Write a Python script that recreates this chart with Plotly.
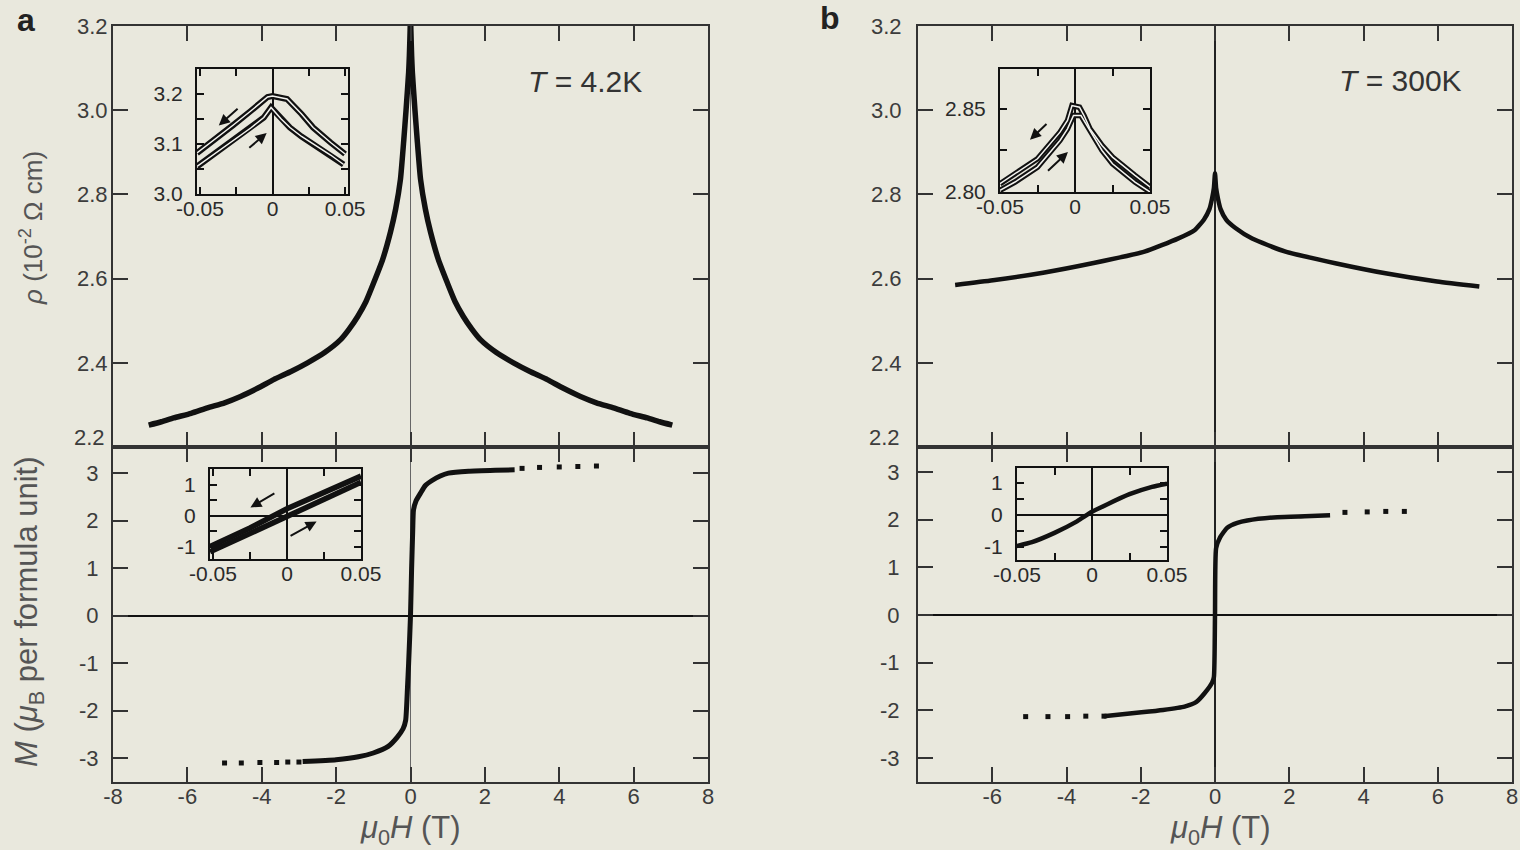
import plotly.graph_objects as go

W, H = 1520, 850
BG = "#e9e8dd"
INK = "#111111"
AX = "#333333"
TXT = "#3c3c3c"
FONT = "Liberation Sans, Arial, sans-serif"

# ---------------- data ----------------
# panel a, resistivity at 4.2 K
rho_a_H = [-7.04, -6.7, -6.37, -5.9, -5.46, -5.0, -4.57, -4.1, -3.68, -3.2, -2.77, -2.3, -1.88, -1.65,
           -1.42, -1.2, -0.99, -0.75, -0.54, -0.4, -0.27, -0.18, -0.12, -0.08, -0.05, -0.03, -0.01, 0.0,
           0.01, 0.03, 0.05, 0.08, 0.12, 0.18, 0.27, 0.4, 0.54, 0.75, 0.99, 1.2, 1.42, 1.65, 1.88, 2.3,
           2.77, 3.2, 3.68, 4.1, 4.57, 5.0, 5.46, 5.9, 6.37, 6.7, 7.04]
rho_a_val = [2.252, 2.26, 2.269, 2.28, 2.293, 2.305, 2.32, 2.34, 2.36, 2.38, 2.40, 2.425, 2.455, 2.48,
             2.51, 2.545, 2.59, 2.645, 2.71, 2.765, 2.836, 2.93, 3.0, 3.05, 3.09, 3.13, 3.19, 3.23,
             3.19, 3.13, 3.09, 3.05, 3.0, 2.93, 2.836, 2.765, 2.71, 2.645, 2.59, 2.545, 2.51, 2.48, 2.455, 2.425,
             2.40, 2.38, 2.36, 2.34, 2.32, 2.305, 2.293, 2.28, 2.269, 2.26, 2.252]

# panel a, magnetisation at 4.2 K (continuous part and sparse points)
m_a_H = [-2.9, -2.0, -1.4, -1.0, -0.6, -0.36, -0.2, -0.13, -0.08, -0.05, 0.0, 0.03, 0.06, 0.08,
         0.15, 0.27, 0.4, 0.59, 0.8, 1.02, 1.56, 2.28, 2.8]
m_a_val = [-3.07, -3.03, -2.97, -2.89, -2.75, -2.56, -2.38, -2.2, -1.5, -1.0, 0.0, 1.0, 1.8, 2.22,
           2.42, 2.58, 2.74, 2.85, 2.94, 3.0, 3.04, 3.06, 3.07]
m_a_dots_H = [-5.0, -4.55, -4.05, -3.6, -3.3, -3.0, 3.0, 3.47, 4.0, 4.5, 5.0]
m_a_dots_val = [-3.1, -3.1, -3.09, -3.09, -3.08, -3.08, 3.1, 3.12, 3.13, 3.14, 3.15]

# panel b, resistivity at 300 K
rho_b_H = [-7.0, -5.98, -4.63, -3.27, -1.9, -1.0, -0.55, -0.3, -0.15, -0.08, -0.03, 0.0,
           0.03, 0.08, 0.15, 0.3, 0.55, 1.0, 1.9, 3.27, 4.63, 5.98, 7.12]
rho_b_val = [2.585, 2.596, 2.614, 2.637, 2.664, 2.695, 2.715, 2.74, 2.765, 2.79, 2.815, 2.85,
             2.815, 2.79, 2.765, 2.74, 2.72, 2.695, 2.664, 2.636, 2.612, 2.593, 2.581]

# panel b, magnetisation at 300 K
m_b_H = [-3.0, -1.98, -1.4, -0.82, -0.5, -0.27, -0.08, -0.03, 0.0, 0.03, 0.14, 0.33, 0.6,
         0.87, 1.68, 2.42, 3.1]
m_b_val = [-2.12, -2.04, -1.99, -1.92, -1.82, -1.63, -1.42, -1.3, 0.0, 1.4, 1.63, 1.83, 1.93,
           1.98, 2.05, 2.07, 2.09]
m_b_dots_H = [-5.1, -4.5, -3.97, -3.48, -2.99, 3.5, 4.1, 4.6, 5.1]
m_b_dots_val = [-2.13, -2.13, -2.13, -2.12, -2.12, 2.15, 2.16, 2.17, 2.17]

# inset a (rho, low field): two sweep branches
ia_rho_H1 = [-0.052, -0.04, -0.027, -0.015, -0.0034, 0.0, 0.01, 0.02, 0.028, 0.04, 0.05]
ia_rho_v1 = [3.082, 3.108, 3.138, 3.166, 3.194, 3.196, 3.19, 3.16, 3.133, 3.103, 3.08]
ia_rho_H2 = [-0.052, -0.04, -0.027, -0.015, -0.006, -0.001, 0.006, 0.012, 0.02, 0.028, 0.04, 0.049]
ia_rho_v2 = [3.055, 3.08, 3.106, 3.132, 3.153, 3.173, 3.15, 3.133, 3.115, 3.10, 3.078, 3.059]

# inset a (M, low field): hysteresis loop
ia_m_H1 = [0.05, 0.025, 0.0, -0.025, -0.052]
ia_m_v1 = [1.27, 0.76, 0.22, -0.4, -1.0]
ia_m_H2 = [-0.052, -0.025, 0.0, 0.025, 0.05]
ia_m_v2 = [-1.17, -0.58, -0.03, 0.52, 1.07]

# inset b (rho, low field)
ib_rho_H1 = [-0.05, -0.04, -0.025, -0.01, -0.005, -0.002, 0.003, 0.006, 0.01, 0.018, 0.025, 0.04, 0.05]
ib_rho_v1 = [2.805, 2.811, 2.82, 2.836, 2.843, 2.852, 2.851, 2.846, 2.838, 2.828, 2.821, 2.81, 2.803]
ib_rho_H2 = [-0.05, -0.04, -0.025, -0.01, -0.005, -0.001, 0.004, 0.008, 0.012, 0.018, 0.025, 0.04, 0.05]
ib_rho_v2 = [2.801, 2.806, 2.815, 2.831, 2.838, 2.846, 2.846, 2.84, 2.834, 2.825, 2.817, 2.806, 2.800]

# inset b (M, low field)
ib_m_H = [-0.05, -0.04, -0.025, -0.01, 0.0, 0.01, 0.025, 0.04, 0.05]
ib_m_v = [-0.97, -0.85, -0.56, -0.2, 0.1, 0.33, 0.65, 0.88, 0.98]

x_ticks_a = [-8, -6, -4, -2, 0, 2, 4, 6, 8]
x_text_a = ["-8", "-6", "-4", "-2", "0", "2", "4", "6", "8"]
x_ticks_b = [-6, -4, -2, 0, 2, 4, 6, 8]
x_text_b = ["-6", "-4", "-2", "0", "2", "4", "6", "8"]
rho_ticks = [2.4, 2.6, 2.8, 3.0, 3.2]
rho_text = ["2.4", "2.6", "2.8", "3.0", "3.2"]
rho_bottom_label = "2.2"
m_ticks = [-3, -2, -1, 0, 1, 2, 3]
m_text = ["-3", "-2", "-1", "0", "1", "2", "3"]
ins_x_ticks = [-0.05, 0, 0.05]
ins_x_text = ["-0.05", "0", "0.05"]

# ---------------- layout helpers ----------------
def fx(p):
    return p / W

def fy(p):
    return 1 - p / H

fig = go.Figure()

def line(x, y, xa, ya, width, color=INK, shape="linear"):
    fig.add_trace(go.Scatter(x=x, y=y, xaxis=xa, yaxis=ya, mode="lines",
                             line=dict(color=color, width=width, shape=shape, smoothing=0.5),
                             hoverinfo="skip", showlegend=False))

def dots(x, y, xa, ya, size=5):
    fig.add_trace(go.Scatter(x=x, y=y, xaxis=xa, yaxis=ya, mode="markers",
                             marker=dict(color=INK, size=size, symbol="square"),
                             hoverinfo="skip", showlegend=False))

# main curves
line(rho_a_H, rho_a_val, "x", "y", 5.5, shape="spline")
line(m_a_H, m_a_val, "x2", "y2", 5, shape="spline")
dots(m_a_dots_H, m_a_dots_val, "x2", "y2", 5)
line(rho_b_H, rho_b_val, "x3", "y3", 4.5, shape="spline")
line(m_b_H, m_b_val, "x4", "y4", 4.5, shape="spline")
dots(m_b_dots_H, m_b_dots_val, "x4", "y4", 5)

# insets
line(ia_rho_H1, ia_rho_v1, "x5", "y5", 6)
line(ia_rho_H2, ia_rho_v2, "x5", "y5", 6)
line(ia_rho_H1, ia_rho_v1, "x5", "y5", 1.5, "#f4f4f0")
line(ia_rho_H2, ia_rho_v2, "x5", "y5", 1.5, "#f4f4f0")
line(ia_m_H1, ia_m_v1, "x6", "y6", 5.5)
line(ia_m_H2, ia_m_v2, "x6", "y6", 5.5)
line(ib_rho_H1, ib_rho_v1, "x7", "y7", 5.5)
line(ib_rho_H2, ib_rho_v2, "x7", "y7", 5.5)
line(ib_rho_H1, ib_rho_v1, "x7", "y7", 1.5, "#f4f4f0")
line(ib_rho_H2, ib_rho_v2, "x7", "y7", 1.5, "#f4f4f0")
line(ib_m_H, ib_m_v, "x8", "y8", 4.5, shape="spline")

tickfont = dict(family=FONT, size=22, color=TXT)
ins_font = dict(family=FONT, size=21, color="#2a2a2a")

def main_x(domain, anchor, vals, text, show, zcolor, zwidth):
    return dict(domain=domain, anchor=anchor, range=[-8, 8], tickvals=vals, ticktext=text,
                showticklabels=show, ticks="inside", ticklen=15, tickwidth=2, tickcolor=AX,
                showline=True, linecolor=AX, linewidth=2, mirror="ticks", showgrid=False,
                zeroline=True, zerolinecolor=zcolor, zerolinewidth=zwidth, tickfont=tickfont,
                ticklabelstandoff=-6, automargin=False)

def main_y(domain, anchor, rng, vals, text, standoff, zero):
    return dict(domain=domain, anchor=anchor, range=rng, tickvals=vals, ticktext=text,
                ticks="inside", ticklen=15, tickwidth=2, tickcolor=AX, showline=True, linecolor=AX,
                linewidth=2, mirror="ticks", showgrid=False, zeroline=zero, zerolinecolor=INK,
                zerolinewidth=2, tickfont=tickfont, ticklabelstandoff=standoff, automargin=False)

def ins_x(domain, anchor, rng):
    return dict(domain=domain, anchor=anchor, range=rng, tickvals=ins_x_ticks, ticktext=ins_x_text,
                ticks="inside", ticklen=7, tickwidth=1.5, tickcolor=INK, showline=True, linecolor=INK,
                linewidth=2, mirror="ticks", showgrid=False, zeroline=True, zerolinecolor=INK,
                zerolinewidth=1.5, tickfont=ins_font, ticklabelstandoff=-5, automargin=False,
                minor=dict(tickvals=[-0.025, 0.025], ticks="inside", ticklen=7, tickwidth=1.5,
                           tickcolor=INK, showgrid=False))

def ins_y(domain, anchor, rng, vals, text, minor_vals, zero):
    return dict(domain=domain, anchor=anchor, range=rng, tickvals=vals, ticktext=text,
                ticks="inside", ticklen=7, tickwidth=1.5, tickcolor=INK, showline=True, linecolor=INK,
                linewidth=2, mirror="ticks", showgrid=False, zeroline=zero, zerolinecolor=INK,
                zerolinewidth=1.5, tickfont=ins_font, ticklabelstandoff=8, automargin=False,
                minor=dict(tickvals=minor_vals, ticks="inside", ticklen=7, tickwidth=1.5,
                           tickcolor=INK, showgrid=False))

xa_dom = [fx(113), fx(708)]
xb_dom = [fx(918), fx(1512)]
yu_dom = [fy(447), fy(26)]
yl_dom = [fy(782), fy(447)]

fig.update_layout(
    width=W, height=H, margin=dict(l=0, r=0, t=0, b=0, autoexpand=False),
    paper_bgcolor=BG, plot_bgcolor="rgba(0,0,0,0)", showlegend=False,
    xaxis=main_x(xa_dom, "y", x_ticks_a, x_text_a, False, "#666666", 1),
    yaxis=main_y(yu_dom, "x", [2.2, 3.2], rho_ticks, rho_text, -1, False),
    xaxis2=main_x(xa_dom, "y2", x_ticks_a, x_text_a, True, "#666666", 1),
    yaxis2=main_y(yl_dom, "x2", [-3.5, 3.55], m_ticks, m_text, 8, True),
    xaxis3=main_x(xb_dom, "y3", x_ticks_b, x_text_b, False, "#222222", 2),
    yaxis3=main_y(yu_dom, "x3", [2.2, 3.2], rho_ticks, rho_text, 10, False),
    xaxis4=main_x(xb_dom, "y4", x_ticks_b, x_text_b, True, "#222222", 2),
    yaxis4=main_y(yl_dom, "x4", [-3.5, 3.52], m_ticks, m_text, 12, True),
    xaxis5=ins_x([fx(197), fx(348)], "y5", [-0.052, 0.052]),
    yaxis5=ins_y([fy(194), fy(69)], "x5", [3.0, 3.25], [3.0, 3.1, 3.2],
                 ["3.0", "3.1", "3.2"], [3.05, 3.15], False),
    xaxis6=ins_x([fx(210), fx(361)], "y6", [-0.052, 0.05]),
    yaxis6=ins_y([fy(559), fy(469)], "x6", [-1.4, 1.5], [-1, 0, 1],
                 ["-1", "0", "1"], [-0.5, 0.5], True),
    xaxis7=ins_x([fx(1000), fx(1150)], "y7", [-0.05, 0.05]),
    yaxis7=ins_y([fy(192), fy(69)], "x7", [2.80, 2.874], [2.80, 2.85],
                 ["2.80", "2.85"], [2.825], False),
    xaxis8=ins_x([fx(1017), fx(1167)], "y8", [-0.05, 0.05]),
    yaxis8=ins_y([fy(560), fy(468)], "x8", [-1.41, 1.47], [-1, 0, 1],
                 ["-1", "0", "1"], [-0.5, 0.5], True),
)

ann = []
def text(x, y, s, size, color="#333333", angle=0, xanchor="center"):
    ann.append(dict(x=fx(x), y=fy(y), xref="paper", yref="paper", text=s, showarrow=False,
                    textangle=angle, xanchor=xanchor, yanchor="middle",
                    font=dict(family=FONT, size=size, color=color)))

text(26, 20, "<b>a</b>", 32, "#222222")
text(830, 18, "<b>b</b>", 32, "#222222")
text(585, 82, "<i>T</i> = 4.2K", 30, "#333333")
text(1400, 80, "<i>T</i> = 300K", 30, "#333333")
text(31, 228, "<i>ρ</i> (10<sup>-2</sup> Ω cm)", 26, "#555555", -90)
text(29, 612, "<i>M</i> (<i>μ</i><sub>B</sub> per formula unit)", 31, "#555555", -90)
text(411, 830, "<i>μ</i><sub>0</sub><i>H</i> (T)", 31, "#555555")
text(1220, 830, "<i>μ</i><sub>0</sub><i>H</i> (T)", 31, "#555555")
# bottom label of the resistivity axes, set slightly above the panel boundary as in the figure
text(107, 437, rho_bottom_label, 22, TXT, xanchor="right")
text(902, 437, rho_bottom_label, 22, TXT, xanchor="right")

def arrow(xa, ya, tail, head):
    ann.append(dict(x=head[0], y=head[1], ax=tail[0], ay=tail[1], xref=xa, yref=ya,
                    axref=xa, ayref=ya, text="", showarrow=True, arrowhead=2, arrowsize=1.1,
                    arrowwidth=2, arrowcolor=INK))

arrow("x5", "y5", (-0.023, 3.173), (-0.037, 3.137))
arrow("x5", "y5", (-0.017, 3.09), (-0.004, 3.122))
arrow("x6", "y6", (-0.0075, 0.74), (-0.0247, 0.26))
arrow("x6", "y6", (0.0014, -0.68), (0.02, -0.19))
arrow("x7", "y7", (-0.018, 2.8417), (-0.030, 2.8315))
arrow("x7", "y7", (-0.019, 2.812), (-0.0047, 2.824))

fig.update_layout(annotations=ann)
fig.write_html("out.html")
